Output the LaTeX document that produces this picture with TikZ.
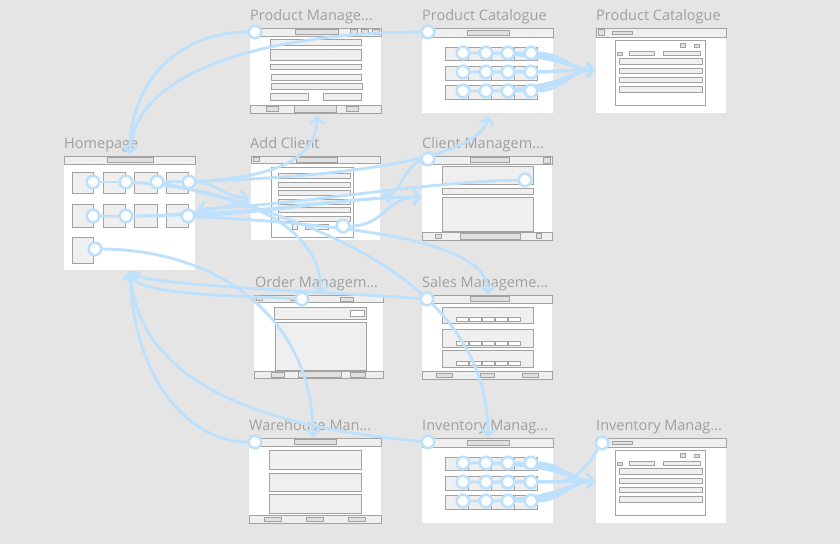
\documentclass[tikz,border=0pt]{standalone}
\usepackage{fontspec}
\setmainfont{Open Sans}
\usetikzlibrary{arrows.meta}
\definecolor{bgcol}{HTML}{E5E5E5}
\definecolor{conncol}{HTML}{BDE0FC}
\definecolor{ttlgray}{HTML}{A0A0A0}
\definecolor{wfline}{HTML}{A2A2A2}
\definecolor{wffill}{HTML}{EFEFEF}
\definecolor{wfdark}{HTML}{E0E0E0}
\pgfdeclarelayer{fg}
\pgfsetlayers{main,fg}
\begin{document}
\begin{tikzpicture}[x=1pt,y=-1pt,
  wf/.style={draw=wfline, fill=wffill, line width=0.3pt},
  wfw/.style={draw=wfline, fill=white, line width=0.3pt},
  wfd/.style={draw=wfline, fill=wfdark, line width=0.3pt},
  ttl/.style={text=ttlgray, anchor=base west, inner sep=0pt, font=\fontsize{14.5}{16}\selectfont},
  conn/.style={draw=conncol, line width=2.8pt, line cap=round},
  arr/.style={conn, -{Straight Barb[length=6pt,width=14pt]}},
  hot/.style={circle, draw=conncol, fill=white, line width=2.6pt, minimum size=12.5pt, inner sep=0pt}]
\useasboundingbox (0,0) rectangle (840,544);
\fill[bgcol] (0,0) rectangle (840,544);

% ---------- titles ----------
\node[ttl] (tHome) at (64,148) {Homepage};
\node[ttl] (tPM) at (250,20.5) {Product Manage...};
\node[ttl] (tPC) at (422,20.5) {Product Catalogue};
\node[ttl] (tPCtwo) at (596,20.5) {Product Catalogue};
\node[ttl] (tAC) at (250,148) {Add Client};
\node[ttl] (tCM) at (422,148) {Client Managem...};
\node[ttl] (tOM) at (255,287) {Order Managem...};
\node[ttl] (tSM) at (422,287) {Sales Manageme...};
\node[ttl] (tWH) at (249,430) {Warehouse Man...};
\node[ttl] (tINV) at (422,430) {Inventory Manag...};
\node[ttl] (tINVtwo) at (596,430) {Inventory Manag...};

% ---------- frames ----------
\fill[white] (64,156) rectangle (195,270);
\fill[white] (250,28) rectangle (381,114);
\fill[white] (422,28) rectangle (553,113);
\fill[white] (596,28) rectangle (726,113);
\fill[white] (251,156) rectangle (380,240);
\fill[white] (422,156) rectangle (552,241);
\fill[white] (254,295) rectangle (383,379);
\fill[white] (422,295) rectangle (552,380);
\fill[white] (249,438) rectangle (381,523);
\fill[white] (422,438) rectangle (553,523);
\fill[white] (596,438) rectangle (726,523);

% Homepage content
\draw[wf] (64,156) rectangle (195,164);
\draw[wfd] (107,157.5) rectangle (153,162.5);
\foreach \xa/\xb in {72/93,103/125,134/157,166/188}{
  \draw[wf] (\xa,172) rectangle (\xb,193);
  \draw[wf] (\xa,204) rectangle (\xb,227);
}
\draw[wf] (72,237) rectangle (93,263);

% Product Management content
\draw[wf] (250,28) rectangle (381,36);
\draw[wfd] (295,29.5) rectangle (338,34.5);
\draw[wfd] (350,29.5) rectangle (357,34.5);
\draw[wfd] (361,29.5) rectangle (368,34.5);
\draw[wfd] (372,29.5) rectangle (379,34.5);
\draw[wf] (270,39) rectangle (361,45);
\draw[wf] (270,49) rectangle (361,60);
\draw[wf] (270,64) rectangle (361,69);
\draw[wf] (271,74) rectangle (361,80);
\draw[wf] (271,83) rectangle (362,89);
\draw[wf] (270,93) rectangle (308,100);
\draw[wf] (323,93) rectangle (361,100);
\draw[wf] (250,105) rectangle (381,113);
\draw[wfd] (266,106.5) rectangle (278,111.5);
\draw[wfd] (294,105.5) rectangle (336,112);
\draw[wfd] (346,106.5) rectangle (358,111.5);

% Product Catalogue 1 and Inventory 1 content
\foreach \oy in {0,410}{
  \draw[wf] (422,28+\oy) rectangle (553,37+\oy);
  \draw[wfd] (467,30.5+\oy) rectangle (509,35+\oy);
  \foreach \ya/\yb in {47/60,66/80,85/99}{
    \foreach \xa/\xb in {445/468,468/491,491/514,514/537}{
      \draw[wf] (\xa,\ya+\oy) rectangle (\xb,\yb+\oy);
    }
  }
}

% Product Catalogue 2 and Inventory 2 content
\foreach \oy in {0,410}{
  \draw[wf] (596,28+\oy) rectangle (726,37+\oy);
  \draw[wfd] (598,29.5+\oy) rectangle (604,35.5+\oy);
  \draw[wfd] (612,31.5+\oy) rectangle (632,34+\oy);
  \draw[wfw] (615,40+\oy) rectangle (705,105+\oy);
  \draw[wfd] (680,43+\oy) rectangle (685,47+\oy);
  \draw[wfd] (694,44+\oy) rectangle (699,47.5+\oy);
  \draw[wfd] (617,52+\oy) rectangle (622,55+\oy);
  \draw[wf] (629,51+\oy) rectangle (654,55+\oy);
  \draw[wf] (663,51+\oy) rectangle (700,55+\oy);
  \draw[wf] (619,58+\oy) rectangle (702,64+\oy);
  \draw[wf] (619,68+\oy) rectangle (702,73+\oy);
  \draw[wf] (619,77+\oy) rectangle (702,82+\oy);
  \draw[wf] (619,86+\oy) rectangle (702,92+\oy);
}

% Add Client content
\draw[wf] (251,156) rectangle (380,163);
\draw[wfd] (253,157.5) rectangle (259,161.5);
\draw[wfd] (296,157.5) rectangle (337,162);
\draw[wfw] (271,167) rectangle (353,237);
\foreach \ya in {173,182,190,199,207,216}{
  \draw[wf] (278,\ya) rectangle (350,\ya+5);
}
\draw[wf] (292,224) rectangle (297,229);
\draw[wf] (305,224) rectangle (328,229);

% Client Management content
\draw[wf] (422,156) rectangle (552,164);
\draw[wfd] (470,157.5) rectangle (509,162);
\draw[wfd] (543,157) rectangle (550,163.5);
\draw[wf] (442,166) rectangle (533,184);
\draw[wf] (442,188) rectangle (533,194);
\draw[wf] (442,197) rectangle (533,231);
\draw[wf] (422,232) rectangle (552,240);
\draw[wfd] (435,234) rectangle (441,238);
\draw[wfd] (460,233) rectangle (520,239);
\draw[wfd] (536,233) rectangle (541,238);

% Order Management content
\draw[wf] (254,295) rectangle (383,302);
\draw[wfd] (256,296.5) rectangle (262,300.5);
\draw[wfd] (290,297) rectangle (296,300.5);
\draw[wfd] (340,297) rectangle (353,301);
\draw[wf] (274,307) rectangle (366,319);
\draw[wfw] (350,310) rectangle (364,316);
\draw[wf] (275,322) rectangle (366,370);
\draw[wf] (254,371) rectangle (383,378);
\draw[wfd] (271,372.5) rectangle (284,377);
\draw[wfd] (298,371.5) rectangle (341,377.5);
\draw[wfd] (350,372.5) rectangle (365,377);

% Sales Management content
\draw[wf] (422,295) rectangle (552,303);
\draw[wfd] (470,296.5) rectangle (509,301.5);
\foreach \ya/\yb in {307/323,329/347,350/367}{
  \draw[wf] (442,\ya) rectangle (533,\yb);
  \foreach \xa in {456,469,482,495,508}{
    \draw[wfw] (\xa,\yb-6) rectangle (\xa+12,\yb-2);
  }
}
\draw[wf] (422,371) rectangle (552,379);
\draw[wfd] (436,373) rectangle (452,377.5);
\draw[wfd] (480,373) rectangle (494,377.5);
\draw[wfd] (522,373) rectangle (538,377.5);

% Warehouse content
\draw[wf] (249,438) rectangle (381,446);
\draw[wfd] (294,439.5) rectangle (336,444.5);
\draw[wf] (269,450) rectangle (361,469);
\draw[wf] (269,473) rectangle (361,491);
\draw[wf] (269,494) rectangle (361,513);
\draw[wf] (249,515) rectangle (381,523);
\draw[wfd] (264,517) rectangle (281,521.5);
\draw[wfd] (306,517) rectangle (323,521.5);
\draw[wfd] (348,517) rectangle (365,521.5);

% ---------- hotspots ----------
\begin{pgfonlayer}{fg}
\node[hot] (cPM) at (255,32) {};
\node[hot] (cPC) at (428,32) {};
\node[hot] (cCM) at (428,159) {};
\node[hot] (cCMtwo) at (525,180) {};
\node[hot] (cAC) at (343,226) {};
\node[hot] (cOM) at (302,299) {};
\node[hot] (cSM) at (427,299) {};
\node[hot] (cWH) at (255,442) {};
\node[hot] (cINV) at (428,442) {};
\node[hot] (cINVtwo) at (602,443) {};
\node[hot] (h11) at (93,182) {};
\node[hot] (h12) at (126,182) {};
\node[hot] (h13) at (157,182) {};
\node[hot] (h14) at (189,182) {};
\node[hot] (h21) at (93,216) {};
\node[hot] (h22) at (126,216) {};
\node[hot] (h24) at (188,216) {};
\node[hot] (h31) at (95,249) {};
\foreach \y [count=\r] in {53,72,91}{
  \foreach \x [count=\c] in {463,486,508,531}{
    \node[hot] (pc\r\c) at (\x,\y) {};
    \node[hot] (iv\r\c) at (\x,\y+410) {};
  }
}
\end{pgfonlayer}

% ---------- arrow targets ----------
\coordinate (aHomeTop) at (130,154);
\coordinate (aHomeRight) at (197,209);
\coordinate (aHomeBot) at (130,271);
\coordinate (aPMbot) at (317,116);
\coordinate (aACleft) at (249,198);
\coordinate (aACright) at (382,196);
\coordinate (aPCbot) at (488,116);
\coordinate (aCMleft) at (421,197);
\coordinate (aOMtop) at (321,294);
\coordinate (aSMtop) at (488,294);
\coordinate (aWHtop) at (313,437);
\coordinate (aINVtop) at (488,437);
\coordinate (aPCtwo) at (595,70);
\coordinate (aINVtwo) at (595,481);
\coordinate (eINVtwo) at (562,481);

% ---------- connectors ----------
\draw[arr] (cPM) .. controls (180,32) and (130,80) .. (aHomeTop);
\draw[arr] (cPC) .. controls (300,32) and (135,60) .. (aHomeTop);
\draw[arr] (h14) .. controls (260,178) and (317,165) .. (aPMbot);
\draw[arr] (h14) .. controls (215,182) and (225,198) .. (aACleft);
\draw[arr] (h13) .. controls (300,180) and (480,165) .. (aPCbot);
\draw[conn] (h11) -- (h12);
\draw[arr] (h12) .. controls (250,190) and (321,230) .. (aOMtop);
\draw[arr] (h13) .. controls (330,220) and (488,290) .. (aINVtop);
\draw[arr] (h24) .. controls (350,225) and (488,240) .. (aSMtop);
\draw[arr] (h24) .. controls (280,212) and (350,197) .. (aCMleft);
\draw[arr] (h21) .. controls (250,218) and (330,197) .. (aCMleft);
\draw[arr] (h22) .. controls (200,216) and (240,204) .. (aACleft);
\draw[arr] (cCMtwo) .. controls (420,182) and (300,205) .. (aHomeRight);
\draw[arr] (cCM) .. controls (405,165) and (400,196) .. (aACright);
\draw[arr] (cAC) .. controls (385,226) and (385,197) .. (aCMleft);
\draw[arr] (h31) .. controls (220,250) and (313,320) .. (aWHtop);
\draw[arr] (cOM) .. controls (220,295) and (135,295) .. (aHomeBot);
\draw[arr] (cSM) .. controls (330,292) and (140,285) .. (aHomeBot);
\draw[arr] (cWH) .. controls (190,442) and (133,380) .. (aHomeBot);
\draw[arr] (cINV) .. controls (300,430) and (140,400) .. (aHomeBot);
\draw[conn] (cINVtwo) .. controls (592,458) and (580,478) .. (eINVtwo);
\foreach \r/\y in {1/53,2/72,3/91}{
  \foreach \c in {1,2,3,4}{
    \draw[arr] (pc\r\c) .. controls (560,\y) and (572,70) .. (aPCtwo);
    \draw[arr] (iv\r\c) .. controls (560,\y+410) and (572,481) .. (aINVtwo);
  }
}
\end{tikzpicture}
\end{document}
